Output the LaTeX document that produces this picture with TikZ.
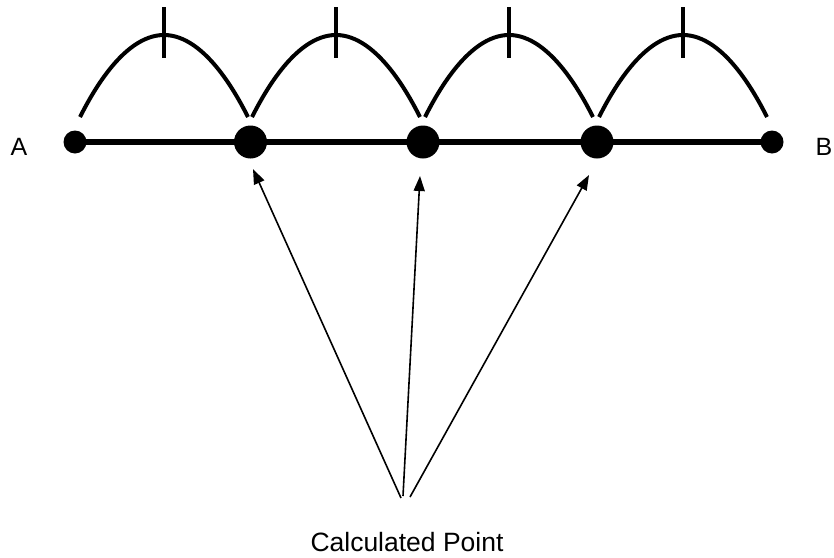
\documentclass[tikz,border=0pt]{standalone}
\usepackage{fontspec}
\setmainfont{Liberation Sans}
\usetikzlibrary{arrows.meta}
\begin{document}
\begin{tikzpicture}[x=1pt,y=-1pt,
  bigdot/.style={circle,fill=black,inner sep=0pt,minimum size=33pt},
  smalldot/.style={circle,fill=black,inner sep=0pt,minimum size=23pt},
  mainline/.style={line width=6.5pt},
  arcline/.style={line width=4pt},
  tickline/.style={line width=4.5pt},
  pointer/.style={line width=1.6pt,-{Triangle[length=15pt,width=11pt]}},
  lbl/.style={font=\fontsize{25}{30}\selectfont,inner sep=0pt}]
\useasboundingbox (0,0) rectangle (834,557);
% points
\node[smalldot] (A) at (75,142) {};
\node[smalldot] (B) at (772,142) {};
\node[bigdot] (P1) at (250.5,142) {};
\node[bigdot] (P2) at (423,142) {};
\node[bigdot] (P3) at (597,142) {};
\draw[mainline] (A.center) -- (B.center);
\node[lbl,anchor=center] (la) at (19,147) {A};
\node[lbl,anchor=center] (lb) at (824,147) {B};
% arcs with ticks
\foreach \xs/\xe in {80/248, 252/420, 425/593, 599/767}{
  \draw[arcline] (\xs,117) parabola bend ({(\xs+\xe)/2},35) (\xe,117);
  \draw[tickline] ({(\xs+\xe)/2},7) -- ({(\xs+\xe)/2},58);
}
% label and arrows
\node[font=\fontsize{26.5}{32}\selectfont,inner sep=0pt] (cp) at (407,542) {Calculated Point};
\coordinate (e1) at (401,498);
\coordinate (e2) at (403,496);
\coordinate (e3) at (410,497);
\coordinate (t1) at (253,169);
\coordinate (t2) at (420,176);
\coordinate (t3) at (589,175);
\draw[pointer] (e1) -- (t1);
\draw[pointer] (e2) -- (t2);
\draw[pointer] (e3) -- (t3);
\end{tikzpicture}
\end{document}
